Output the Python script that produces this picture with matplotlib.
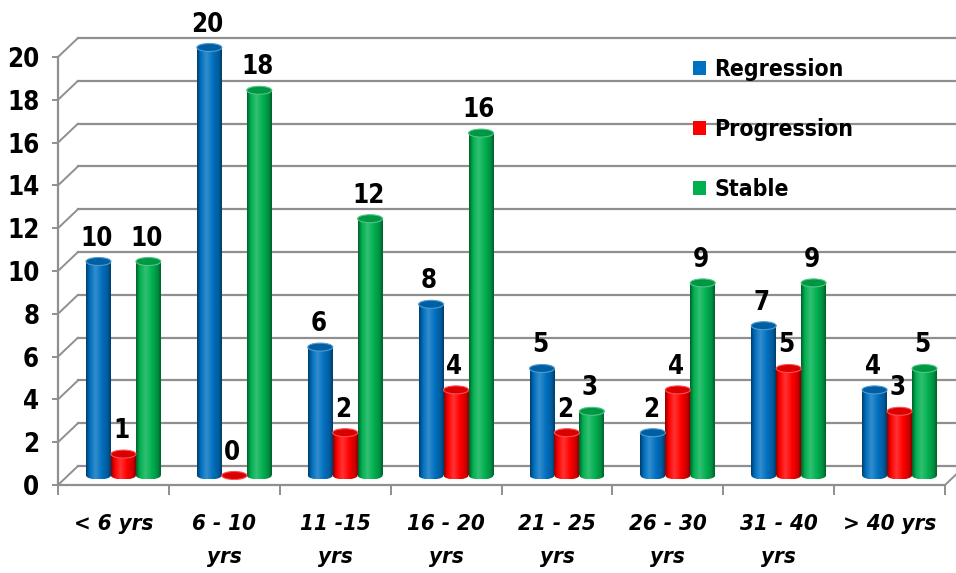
import numpy as np
import matplotlib
matplotlib.use('Agg')
import matplotlib.pyplot as plt
from matplotlib import transforms
from matplotlib.patches import Ellipse, Rectangle, Patch
from matplotlib.colors import LinearSegmentedColormap, to_rgb

plt.rcParams['font.family'] = ['DejaVu Sans']
plt.rcParams['font.stretch'] = 'condensed'

CATEGORIES = ['< 6 yrs', '6 - 10\nyrs', '11 -15\nyrs', '16 - 20\nyrs',
              '21 - 25\nyrs', '26 - 30\nyrs', '31 - 40\nyrs', '> 40 yrs']
REGRESSION = [10, 20, 6, 8, 5, 2, 7, 4]
PROGRESSION = [1, 0, 2, 4, 2, 4, 5, 3]
STABLE = [10, 18, 12, 16, 3, 9, 9, 5]
SERIES = [('Regression', REGRESSION, '#0070C0'),
          ('Progression', PROGRESSION, '#FF0000'),
          ('Stable', STABLE, '#00B050')]

DPI = 100
BAR_W = 0.225
GRID = '#8f8f8f'
DEPTH = (20, 19)   # pixel shift from front plane to back wall


def cyl_cmap(color):
    rgb = np.array(to_rgb(color))
    dark = rgb * 0.55
    light = rgb + (1 - rgb) * 0.2
    return LinearSegmentedColormap.from_list(
        'cyl', [(0, dark), (0.15, rgb), (0.38, light), (0.65, rgb),
                (0.88, rgb * 0.8), (1, dark)])


def cylinder(ax, x, h, color, trans, ry):
    cmap = cyl_cmap(color)
    grad = np.linspace(0, 1, 64)[None, :]
    x0, x1 = x - BAR_W / 2, x + BAR_W / 2
    body = Rectangle((x0, 0), BAR_W, h, transform=trans)
    base = Ellipse((x, 0), BAR_W, 2 * ry, transform=trans)
    for clip in (base, body):
        im = ax.imshow(grad, extent=(x0, x1, -ry, max(h, 0.01)), aspect='auto',
                       cmap=cmap, interpolation='bilinear', zorder=3)
        im.set_transform(trans)
        im.set_clip_path(clip)
    rgb = np.array(to_rgb(color))
    top = Ellipse((x, h), BAR_W, 2 * ry, transform=trans, zorder=4,
                  facecolor=rgb * 0.85, edgecolor=rgb + (1 - rgb) * 0.3, lw=0.8,
                  clip_on=False)
    ax.add_patch(top)


fig = plt.figure(figsize=(9.56, 5.73), dpi=DPI)
ax = fig.add_axes([58 / 956, 88 / 573, 887 / 956, 428 / 573])
ax.set_xlim(-0.5, 7.5)
ax.set_ylim(0, 20)
ax.patch.set_alpha(0)

back = transforms.offset_copy(ax.transData, fig=fig, x=DEPTH[0], y=DEPTH[1], units='dots')
mid = transforms.offset_copy(ax.transData, fig=fig, x=DEPTH[0] / 2, y=DEPTH[1] / 2, units='dots')

# back wall gridlines and left wall diagonals
yticks = list(range(0, 21, 2))
for v in yticks:
    ax.plot([-0.5, 7.5], [v, v], transform=back, color=GRID, lw=1.6,
            clip_on=False, zorder=1)
    ax.annotate('', xy=(-0.5, v), xytext=DEPTH, textcoords='offset pixels',
                arrowprops=dict(arrowstyle='-', color=GRID, lw=1.4,
                                shrinkA=0, shrinkB=0), annotation_clip=False)
ax.annotate('', xy=(7.5, 0), xytext=DEPTH, textcoords='offset pixels',
            arrowprops=dict(arrowstyle='-', color=GRID, lw=1.4,
                            shrinkA=0, shrinkB=0), annotation_clip=False)

px_per_unit = ax.transData.transform((0, 1))[1] - ax.transData.transform((0, 0))[1]
ry = 4.0 / px_per_unit

x = np.arange(len(CATEGORIES))
for j, (name, vals, color) in enumerate(SERIES):
    xs = x + (j - 1) * BAR_W
    for xi, v in zip(xs, vals):
        cylinder(ax, xi, v, color, mid, ry)
        ax.annotate(str(v), xy=(xi, v), xycoords=mid, xytext=(-2, 10),
                    textcoords='offset pixels', ha='center', va='bottom',
                    fontsize=18.5, fontweight='bold', zorder=5)

for side in ('top', 'right'):
    ax.spines[side].set_visible(False)
for side in ('left', 'bottom'):
    ax.spines[side].set_color(GRID)
    ax.spines[side].set_linewidth(1.6)

ax.set_yticks(yticks)
ax.set_yticklabels([str(v) for v in yticks], fontsize=18.5, fontweight='bold')
ax.tick_params(axis='y', length=4.5, width=1.4, color=GRID, pad=9)

ax.set_xticks(x)
ax.set_xticklabels(CATEGORIES, fontsize=16, fontweight='bold', fontstyle='italic',
                   linespacing=1.8)
ax.tick_params(axis='x', which='major', length=0, pad=21)
ax.set_xticks(np.arange(-0.5, 8, 1), minor=True)
ax.tick_params(axis='x', which='minor', length=7, width=1.4, color=GRID)

handles = [Patch(facecolor=c) for _, _, c in SERIES]
fig.legend(handles, [n for n, _, _ in SERIES], loc='upper left',
           bbox_to_anchor=(682 / 956, 1 - 47 / 573), frameon=False,
           prop={'weight': 'bold', 'size': 16.5}, handlelength=0.55,
           handleheight=0.55, handletextpad=0.35, labelspacing=1.6, borderpad=0)

fig.savefig('out.png', dpi=DPI)
